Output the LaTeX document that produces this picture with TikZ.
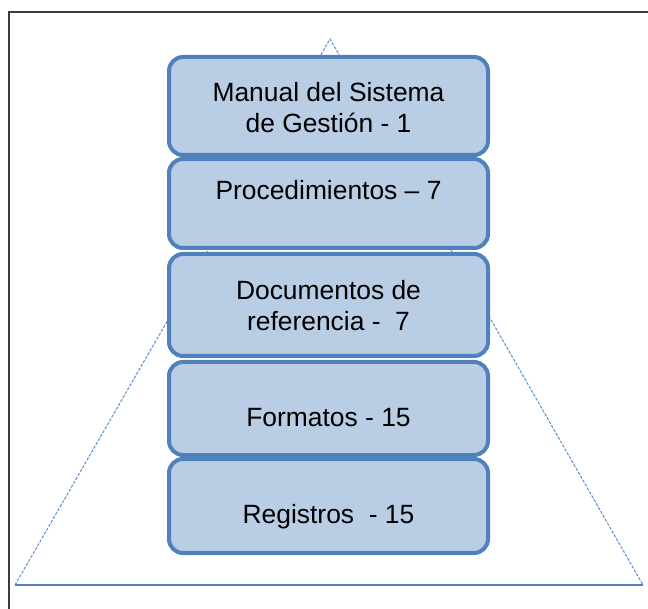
\documentclass[tikz,border=0pt]{standalone}
\usepackage{fontspec}
\setmainfont{Liberation Sans}
\definecolor{boxfill}{RGB}{185,205,229}
\definecolor{boxline}{RGB}{79,129,189}
\definecolor{sideline}{RGB}{100,150,210}
\definecolor{framegray}{RGB}{60,60,60}
\begin{document}
\begin{tikzpicture}[x=1pt,y=-1pt,
  layer/.style={draw=boxline,fill=boxfill,line width=4pt,rounded corners=14pt,
    inner sep=0pt,minimum width=319pt},
  lbl/.style={anchor=base,inner sep=0pt,align=center,font=\fontsize{26.4}{31.5}\selectfont},
  side/.style={draw=sideline,line width=1.1pt,dash pattern=on 3pt off 1.5pt},
  basel/.style={draw=boxline,line width=1.6pt},
  frame/.style={draw=framegray,line width=2pt}]
\useasboundingbox (0,0) rectangle (648,609);
% frame (top and left edges visible)
\coordinate (fbl) at (9,610);
\coordinate (ftl) at (9,12);
\coordinate (ftr) at (649,12);
\draw[frame] (fbl) -- (ftl) -- (ftr);
% triangle
\coordinate (apex) at (330,39);
\coordinate (bl) at (15,585);
\coordinate (br) at (643,585);
\draw[side] (bl) -- (apex) -- (br);
\draw[basel] (bl) -- (br);
% layers
\node[layer,minimum height=98pt] (l1) at (328.5,106) {};
\node[layer,minimum height=89pt] (l2) at (328.5,203.5) {};
\node[layer,minimum height=102pt] (l3) at (328.5,305) {};
\node[layer,minimum height=93pt] (l4) at (328.5,408.5) {};
\node[layer,minimum height=94pt] (l5) at (328.5,506) {};
% labels (base = baseline of the last line)
\node[lbl] (t1) at (328.5,133) {Manual del Sistema\\de Gestión - 1};
\node[lbl] (t2) at (328.5,200) {Procedimientos – 7};
\node[lbl] (t3) at (328.5,331) {Documentos de\\referencia -\ \ 7};
\node[lbl] (t4) at (328.5,427) {Formatos - 15};
\node[lbl] (t5) at (328.5,523) {Registros\ \ - 15};
\end{tikzpicture}
\end{document}
